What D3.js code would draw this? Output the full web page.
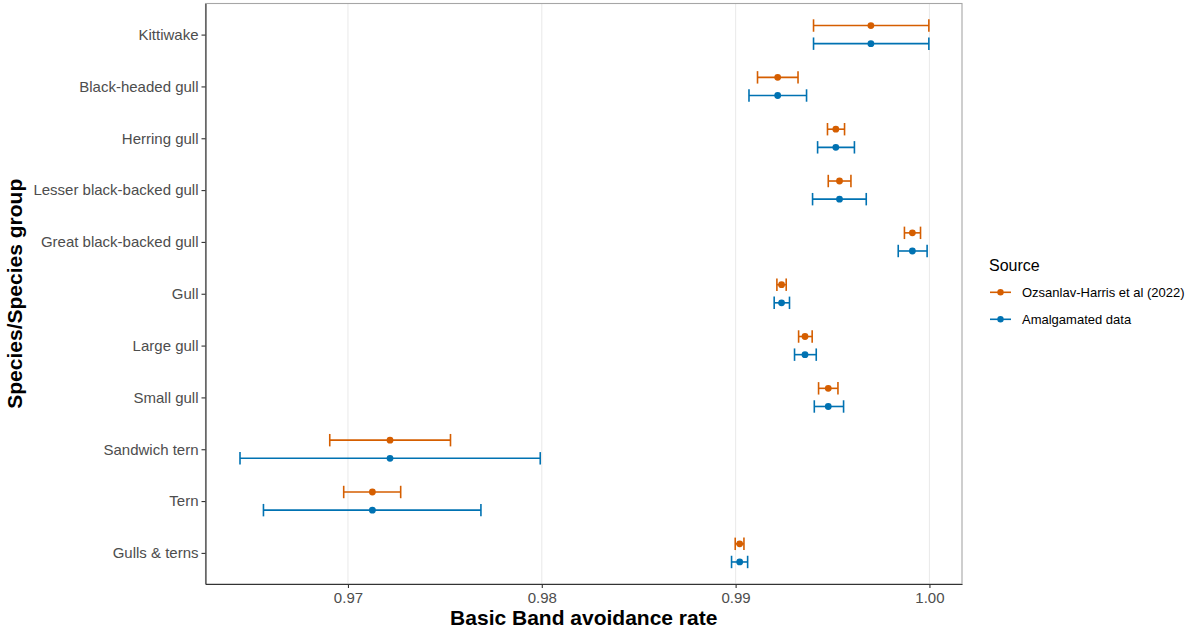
<!DOCTYPE html>
<html>
<head>
<meta charset="utf-8">
<script src="https://cdn.jsdelivr.net/npm/d3@7"></script>
<style>
  body { margin: 0; background: #fff; }
  svg { font-family: "Liberation Sans", Arial, sans-serif; }
</style>
</head>
<body>
<div id="chart"></div>
<script>
// Dados
const species = ['Kittiwake', 'Black-headed gull', 'Herring gull', 'Lesser black-backed gull',
    'Great black-backed gull', 'Gull', 'Large gull', 'Small gull', 'Sandwich tern', 'Tern', 'Gulls & terns'];
const sources = ['Ozsanlav-Harris et al (2022)', 'Amalgamated data'];
const estimate = [0.99698, 0.99217, 0.99517, 0.99536, 0.99912, 0.99237, 0.99358, 0.99478, 0.97217, 0.97126, 0.99021];
const lowerOzsanlav = [0.99402, 0.99113, 0.99474, 0.99478, 0.99871, 0.99213, 0.99325, 0.99428, 0.96906, 0.96978, 0.98998];
const upperOzsanlav = [0.99997, 0.99322, 0.99562, 0.99595, 0.99954, 0.99261, 0.99395, 0.99528, 0.97529, 0.97272, 0.99043];
const lowerAmalg = [0.99402, 0.99069, 0.99423, 0.99397, 0.99839, 0.99199, 0.99304, 0.99406, 0.96443, 0.96564, 0.98979];
const upperAmalg = [0.99997, 0.99366, 0.99613, 0.99674, 0.99988, 0.99278, 0.99416, 0.99557, 0.97992, 0.97686, 0.99062];
const xTicks = [0.97, 0.98, 0.99, 1.00];

const rows = [];
species.forEach((s, i) => {
    rows.push({ species: s, source: sources[0], est: estimate[i], lo: lowerOzsanlav[i], hi: upperOzsanlav[i] });
    rows.push({ species: s, source: sources[1], est: estimate[i], lo: lowerAmalg[i], hi: upperAmalg[i] });
});

const W = 1186, H = 630;
const margin = {top: 3.5, right: 224, bottom: 46, left: 205.5};
const width = W - margin.left - margin.right;
const height = H - margin.top - margin.bottom;

const svg = d3.select('#chart').append('svg')
    .attr('width', W)
    .attr('height', H);

const g = svg.append('g')
    .attr('transform', `translate(${margin.left},${margin.top})`);

// Escalas
const x = d3.scaleLinear()
    .domain([0.96265, 1.00168])
    .range([0, width]);

const y = d3.scalePoint()
    .domain(species)
    .range([0, height])
    .padding(0.6);

const color = d3.scaleOrdinal()
    .domain(sources)
    .range(['#D55E00', '#0072B2']);

const dodge = d3.scaleOrdinal()
    .domain(sources)
    .range([-0.175, 0.175]);

const step = y.step();
const cap = step * 0.12;

// Grade
g.append('g')
    .selectAll('line')
    .data(xTicks)
    .enter().append('line')
    .attr('x1', d => x(d))
    .attr('x2', d => x(d))
    .attr('y1', 0)
    .attr('y2', height)
    .attr('stroke', '#EBEBEB')
    .attr('stroke-width', 1.1);

// Barras de erro
const bars = g.selectAll('.err')
    .data(rows)
    .enter().append('g')
    .attr('class', 'err')
    .attr('transform', d => `translate(0,${y(d.species) + dodge(d.source) * step})`)
    .attr('stroke', d => color(d.source))
    .attr('stroke-width', 1.6)
    .attr('fill', 'none');

bars.append('line')
    .attr('x1', d => x(d.lo))
    .attr('x2', d => x(d.hi))
    .attr('y1', 0).attr('y2', 0);

bars.append('line')
    .attr('x1', d => x(d.lo)).attr('x2', d => x(d.lo))
    .attr('y1', -cap).attr('y2', cap);

bars.append('line')
    .attr('x1', d => x(d.hi)).attr('x2', d => x(d.hi))
    .attr('y1', -cap).attr('y2', cap);

// Pontos
g.selectAll('.dot')
    .data(rows)
    .enter().append('circle')
    .attr('class', 'dot')
    .attr('cx', d => x(d.est))
    .attr('cy', d => y(d.species) + dodge(d.source) * step)
    .attr('r', 3.4)
    .attr('fill', d => color(d.source));

// Borda do painel
g.append('rect')
    .attr('width', width)
    .attr('height', height)
    .attr('fill', 'none')
    .attr('stroke', '#A6A6A6')
    .attr('stroke-width', 1.1);

// Eixos
const xAxis = g.append('g')
    .attr('transform', `translate(0,${height})`)
    .call(d3.axisBottom(x).tickValues(xTicks).tickSize(4).tickSizeOuter(0).tickPadding(4)
        .tickFormat(d => d3.format('.2f')(d)));

const yAxis = g.append('g')
    .call(d3.axisLeft(y).tickSize(4).tickSizeOuter(0).tickPadding(3));

[xAxis, yAxis].forEach(ax => {
    ax.select('.domain').attr('stroke', '#333333').attr('stroke-width', 1.1);
    ax.selectAll('.tick line').attr('stroke', '#333333').attr('stroke-width', 1.1);
    ax.selectAll('.tick text')
        .attr('fill', '#4D4D4D')
        .style('font-size', '15px')
        .style('font-family', '"Liberation Sans", Arial, sans-serif');
});

// Título dos eixos
svg.append('text')
    .attr('x', margin.left + width / 2)
    .attr('y', 625)
    .style('text-anchor', 'middle')
    .style('font-size', '21px')
    .style('font-weight', 'bold')
    .text('Basic Band avoidance rate');

svg.append('text')
    .attr('transform', `translate(22,${margin.top + height / 2}) rotate(-90)`)
    .style('text-anchor', 'middle')
    .style('font-size', '21px')
    .style('font-weight', 'bold')
    .text('Species/Species group');

// Legenda
const legend = svg.append('g')
    .attr('transform', 'translate(989, 0)');

legend.append('text')
    .attr('x', 0)
    .attr('y', 271)
    .style('font-size', '16px')
    .text('Source');

sources.forEach((s, i) => {
    const lg = legend.append('g')
        .attr('transform', `translate(0, ${292.3 + i * 27})`);

    lg.append('line')
        .attr('x1', 1)
        .attr('x2', 22)
        .attr('stroke', color(s))
        .attr('stroke-width', 1.6);

    lg.append('circle')
        .attr('cx', 11.5)
        .attr('r', 3.2)
        .attr('fill', color(s));

    lg.append('text')
        .attr('x', 33)
        .attr('dy', '.35em')
        .style('font-size', '13px')
        .attr('fill', '#000')
        .text(s);
});
</script>
</body>
</html>
